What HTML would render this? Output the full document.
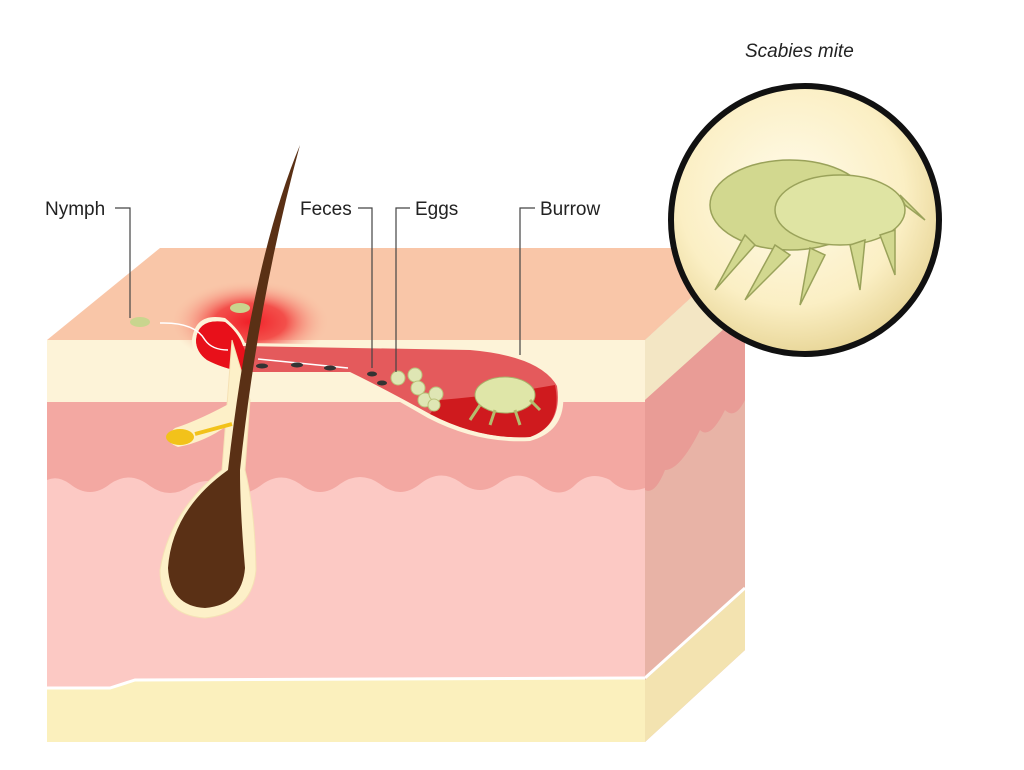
<!DOCTYPE html>
<html><head><meta charset="utf-8"><style>
html,body{margin:0;padding:0;background:#fff;width:1024px;height:770px;overflow:hidden}
svg{display:block}
text{font-family:"Liberation Sans",sans-serif;font-size:19px;fill:#222}
</style></head><body>
<svg width="1024" height="770" viewBox="0 0 1024 770">
<defs>
<radialGradient id="inf" cx="0.5" cy="0.5" r="0.5">
<stop offset="0" stop-color="#f02028"/><stop offset="0.45" stop-color="#f23a3a" stop-opacity="0.85"/><stop offset="1" stop-color="#f9c6a8" stop-opacity="0"/></radialGradient>
<radialGradient id="lens" cx="0.45" cy="0.4" r="0.6">
<stop offset="0" stop-color="#fffbea"/><stop offset="0.7" stop-color="#fbefc4"/><stop offset="1" stop-color="#e9d79a"/></radialGradient>
</defs>
<!-- top face -->
<polygon points="47,340 645,340 745,248 160,248" fill="#f9c6a8"/>
<!-- right face -->
<polygon points="645,340 745,248 745,650 645,742" fill="#e8b3a6"/>
<polygon points="645,340 745,248 745,310 645,400" fill="#f3e6c4"/>
<path d="M645,400 L745,310 L745,400 Q735,420 725,410 Q710,440 700,430 Q680,470 665,470 Q655,495 645,490 Z" fill="#e99c96"/>
<polygon points="645,680 745,590 745,650 645,742" fill="#f3e3b0"/>
<polyline points="645,678 745,588" stroke="#fff" stroke-width="3" fill="none"/>
<!-- front face -->
<rect x="47" y="340" width="598" height="402" fill="#fcc9c4"/>
<rect x="47" y="340" width="598" height="62" fill="#fdf3d8"/>
<path d="M47,402 L645,402 L645,488 Q625,495 610,480 Q590,470 575,485 Q560,500 540,485 Q520,468 500,482 Q480,498 460,482 Q440,468 420,484 Q400,500 380,484 Q360,470 340,484 Q320,500 300,484 Q280,470 260,486 Q240,500 225,488 Q210,475 190,486 Q170,500 150,486 Q130,470 110,484 Q90,500 70,484 Q58,475 47,480 Z" fill="#f3a8a2"/>
<path d="M47,688 L110,688 L135,680 L645,678 L645,742 L47,742 Z" fill="#fbf0bd"/>
<path d="M47,688 L110,688 L135,680 L645,678" stroke="#fff" stroke-width="3" fill="none"/>
<!-- inflammation -->
<ellipse cx="250" cy="322" rx="80" ry="42" fill="url(#inf)"/>
<!-- burrow -->
<path d="M192,340 Q195,312 225,318 Q240,330 245,343 L470,347 Q545,352 562,385 Q570,430 530,441 Q478,444 428,418 Q380,390 350,375 L245,375 Q225,370 205,362 Q192,355 192,340 Z" fill="#fdf3d8"/>
<path d="M196,340 Q198,318 225,322 Q238,332 243,346 L470,350 Q540,356 557,386 Q563,425 530,437 Q480,440 430,414 Q383,388 350,372 L243,372 Q222,368 207,360 Q196,352 196,340 Z" fill="#e45a5c"/>
<path d="M196,340 Q198,318 225,322 Q238,332 243,346 L250,360 L243,372 Q222,368 207,360 Q196,352 196,340 Z" fill="#e8101a"/>
<path d="M440,400 Q500,395 555,385 Q563,425 530,437 Q480,440 430,414 Z" fill="#cf1a1e"/>
<path d="M160,323 Q195,322 205,340 Q212,350 228,350" stroke="#fff" stroke-width="1.5" fill="none"/>
<path d="M258,359 L348,368" stroke="#fff" stroke-width="1.5" fill="none"/>
<g fill="#333"><ellipse cx="262" cy="366" rx="6" ry="2.5"/><ellipse cx="297" cy="365" rx="6" ry="2.5"/><ellipse cx="330" cy="368" rx="6" ry="2.5"/><ellipse cx="372" cy="374" rx="5" ry="2.5"/><ellipse cx="382" cy="383" rx="5" ry="2.5"/></g>
<g fill="#dfe6b4" stroke="#b9c27a"><circle cx="398" cy="378" r="7"/><circle cx="415" cy="375" r="7"/><circle cx="418" cy="388" r="7"/><circle cx="425" cy="400" r="7"/><circle cx="436" cy="394" r="7"/><circle cx="434" cy="405" r="6"/></g>
<ellipse cx="505" cy="395" rx="30" ry="18" fill="#dfe6a8" stroke="#a8b068"/>
<path d="M480,405 L470,420 M495,410 L490,425 M515,410 L520,425 M530,400 L540,410" stroke="#b4bd6e" stroke-width="3"/>
<ellipse cx="140" cy="322" rx="10" ry="5" fill="#c9d58e"/>
<ellipse cx="240" cy="308" rx="10" ry="5" fill="#c9d58e"/>
<!-- hair & follicle -->
<path d="M232,340 L222,470 Q170,510 160,570 Q160,615 205,618 Q252,613 256,570 Q255,510 245,470 L250,400 Z" fill="#fdf0c8" stroke="#f5e1b5"/>
<path d="M236,400 Q200,420 175,428 Q160,440 178,447 Q205,442 228,425" fill="#fdf0c8"/>
<ellipse cx="180" cy="437" rx="14" ry="8" fill="#f2c21a"/>
<path d="M232,424 L195,434" stroke="#f2c21a" stroke-width="4"/>
<path d="M300,145 Q252,260 228,470 Q172,510 168,568 Q170,606 205,608 Q242,605 245,568 Q240,510 240,470 Q258,300 300,145 Z" fill="#5a3015"/>
<!-- leader lines -->
<g stroke="#444" stroke-width="1.2" fill="none">
<polyline points="115,208 130,208 130,318"/>
<polyline points="358,208 372,208 372,368"/>
<polyline points="410,208 396,208 396,372"/>
<polyline points="535,208 520,208 520,355"/>
</g>
<text x="45" y="215">Nymph</text>
<text x="300" y="215">Feces</text>
<text x="415" y="215">Eggs</text>
<text x="540" y="215">Burrow</text>
<text x="745" y="57" font-style="italic">Scabies mite</text>
<!-- lens -->
<circle cx="805" cy="220" r="134" fill="url(#lens)" stroke="#111" stroke-width="6"/>
<g fill="#d2d88f" stroke="#9aa25a" stroke-width="1.5">
<ellipse cx="790" cy="205" rx="80" ry="45"/>
<ellipse cx="840" cy="210" rx="65" ry="35" fill="#dfe4a3"/>
<path d="M745,235 L715,290 L755,245 Z"/><path d="M775,245 L745,300 L790,255 Z"/>
<path d="M810,248 L800,305 L825,255 Z"/><path d="M850,245 L860,290 L865,240 Z"/>
<path d="M880,235 L895,275 L895,230 Z"/><path d="M905,205 L925,220 L900,195 Z"/>
</g>
</svg>
</body></html>
